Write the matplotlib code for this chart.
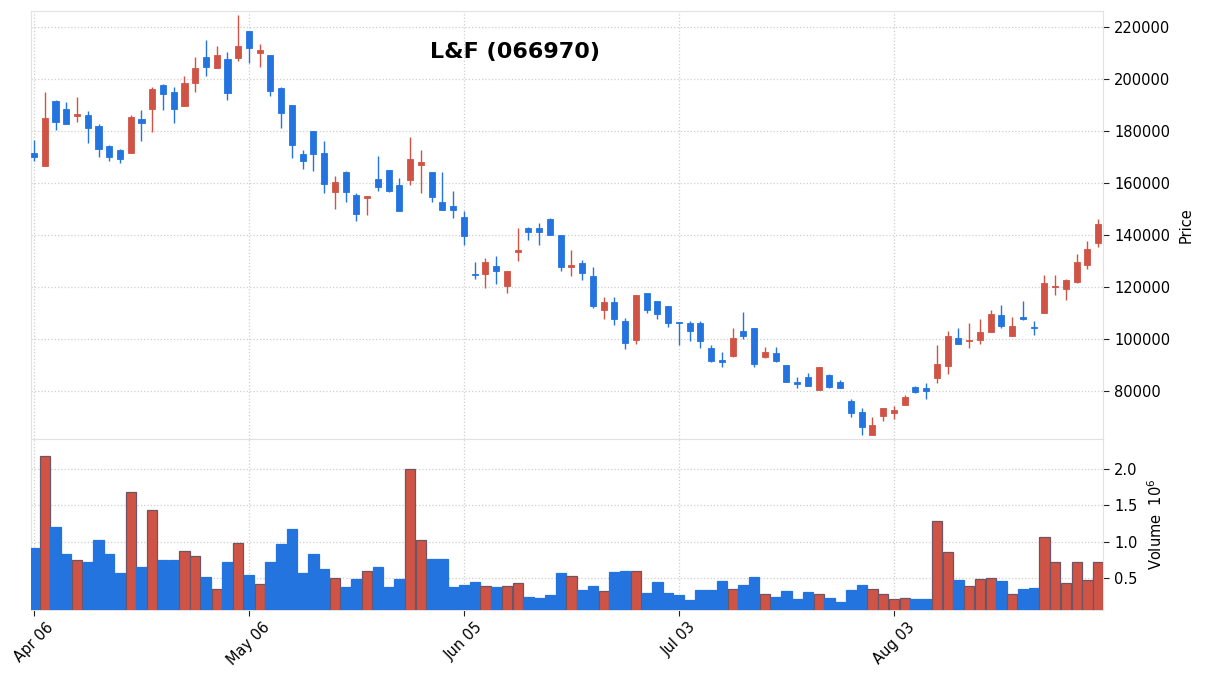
import numpy as np
import matplotlib
matplotlib.use("Agg")
import matplotlib.pyplot as plt

title = "L&F (066970)"

# daily OHLC (KRW) and volume (shares)
opens = [171500, 166500, 191500, 188500, 185800, 186000, 182000, 174000, 172500, 171500,
         184500, 188500, 197500, 195000, 189500, 198500, 208500, 204000, 207500, 208000,
         218500, 210000, 209000, 196500, 190000, 171000, 180000, 171500, 156500, 164000,
         155500, 154000, 161500, 165000, 159000, 161000, 167000, 164000, 152500, 151000,
         147000, 125000, 125000, 128000, 120500, 133500, 142500, 142500, 146000, 140000,
         127500, 129000, 124000, 111000, 114000, 107000, 99500, 117500, 114500, 112500,
         106500, 106000, 106000, 96500, 92000, 93500, 103000, 104000, 93000, 94500,
         90000, 83500, 85500, 80500, 86000, 83500, 76000, 72000, 63000, 70500,
         71500, 74500, 81500, 81000, 85000, 89500, 100500, 99000, 99500, 102500,
         109000, 101000, 108000, 104500, 110000, 120000, 119000, 122000, 128500, 137000]
highs = [176500, 195000, 192000, 191000, 193000, 187500, 182500, 174500, 173000, 186000,
         188000, 197000, 198000, 197000, 201000, 208500, 215000, 212500, 210500, 224500,
         218500, 213500, 209000, 197000, 190000, 172500, 180000, 176000, 162500, 164500,
         156000, 155000, 170500, 165000, 162000, 177500, 172500, 164000, 164000, 157000,
         149000, 129500, 131000, 132000, 126000, 142500, 143000, 144500, 146500, 140000,
         134000, 130500, 127500, 116000, 116000, 108000, 117000, 117500, 114500, 112500,
         106500, 107000, 107000, 97500, 95000, 104000, 110500, 104000, 97000, 97000,
         90000, 85500, 87000, 89000, 86500, 84000, 77000, 73500, 70000, 73500,
         74000, 78500, 82000, 83000, 97500, 103000, 104000, 106000, 107500, 111000,
         113000, 108500, 114500, 107000, 124500, 124500, 123000, 132500, 137500, 146000]
lows = [168500, 166500, 180500, 182500, 183500, 175500, 170000, 168500, 167500, 171500,
        176000, 179500, 188000, 183000, 189500, 195000, 201000, 204000, 192000, 207000,
        206000, 204500, 193500, 181000, 169500, 165500, 164500, 156000, 150000, 152500,
        145500, 147500, 157000, 156500, 149000, 159000, 156000, 152500, 149500, 146500,
        136000, 123000, 119500, 121000, 117500, 130000, 138000, 136000, 140000, 126000,
        124000, 122500, 112000, 107500, 105500, 96000, 98000, 110000, 107500, 104500,
        97500, 99000, 96500, 91000, 89000, 93000, 100000, 89000, 92500, 91000,
        83500, 81000, 82000, 80500, 81000, 81000, 70000, 63000, 63000, 68500,
        69000, 74500, 79000, 77000, 83000, 86500, 98000, 96500, 98000, 102500,
        104000, 101000, 107300, 101500, 110000, 117000, 115000, 121500, 127000, 135500]
closes = [170000, 185000, 183500, 182500, 186500, 181000, 173000, 170000, 169000, 185500,
          183000, 196000, 194000, 188500, 198500, 204000, 204500, 209000, 194500, 212500,
          212000, 211000, 195500, 187000, 174500, 168500, 171000, 159500, 160500, 156500,
          148000, 155000, 158500, 157000, 149000, 169000, 168000, 154500, 149500, 149500,
          139500, 124500, 129500, 126000, 126000, 134000, 141000, 141000, 140000, 127500,
          128500, 125500, 112500, 114000, 107500, 98500, 117000, 111000, 109500, 106000,
          106000, 103000, 99000, 91500, 91000, 100500, 101000, 90500, 95000, 91500,
          83500, 82500, 82000, 89000, 81500, 81000, 71500, 66000, 67000, 73500,
          72500, 77500, 79500, 80000, 90500, 101000, 98000, 99500, 102500, 109500,
          105000, 105000, 107800, 104000, 121500, 120500, 122500, 129500, 134500, 144000]
volumes = [910000, 2180000, 1200000, 840000, 750000, 730000, 1030000, 830000, 580000, 1690000,
           650000, 1440000, 750000, 750000, 880000, 810000, 520000, 360000, 730000, 980000,
           550000, 420000, 720000, 970000, 1170000, 580000, 840000, 630000, 500000, 380000,
           490000, 600000, 660000, 380000, 490000, 2000000, 1020000, 770000, 770000, 380000,
           410000, 450000, 390000, 380000, 400000, 430000, 240000, 230000, 270000, 570000,
           530000, 340000, 390000, 320000, 590000, 600000, 600000, 300000, 450000, 300000,
           270000, 200000, 340000, 340000, 460000, 360000, 410000, 520000, 280000, 240000,
           330000, 220000, 310000, 290000, 230000, 180000, 340000, 410000, 360000, 290000,
           210000, 230000, 210000, 210000, 1280000, 860000, 480000, 400000, 490000, 500000,
           460000, 280000, 350000, 370000, 1060000, 730000, 440000, 730000, 480000, 730000]

tick_pos = [0, 20, 40, 60, 80]
tick_labels = ["Apr 06", "May 06", "Jun 05", "Jul 03", "Aug 03"]

up_color = "#d05446"
down_color = "#2474e0"
up_edge = "#6e5566"
grid_color = "#cfcfcf"
frame_color = "#e2e2e2"

o = np.array(opens, dtype=float)
h = np.array(highs, dtype=float)
l = np.array(lows, dtype=float)
c = np.array(closes, dtype=float)
v = np.array(volumes, dtype=float) / 1e6
x = np.arange(len(o))
up = c >= o
colors = np.where(up, up_color, down_color)

fig = plt.figure(figsize=(12.06, 6.83), dpi=100)
ax = fig.add_axes([31 / 1206, 1 - 439 / 683, 1072 / 1206, 428.5 / 683])
axv = fig.add_axes([31 / 1206, 1 - 610 / 683, 1072 / 1206, 171 / 683], sharex=ax)

# candles
ax.vlines(x, l, h, colors=colors, linewidth=1.0, zorder=3)
body_bot = np.minimum(o, c)
body_h = np.maximum(np.abs(c - o), 500)
ax.bar(x, body_h, bottom=body_bot, width=0.56, color=colors,
       edgecolor=colors, linewidth=0.6, zorder=4)

# volume
edges = np.where(up, up_edge, down_color)
axv.bar(x, v, width=0.95, color=colors, edgecolor=edges, linewidth=0.9, zorder=3)

ax.set_xlim(-0.28, 99.45)
ax.set_ylim(61500, 226300)
axv.set_ylim(0.066, 2.41)

ax.set_yticks(np.arange(80000, 220001, 20000))
axv.set_yticks([0.5, 1.0, 1.5, 2.0])
axv.set_yticklabels(["0.5", "1.0", "1.5", "2.0"])

for a in (ax, axv):
    a.yaxis.tick_right()
    a.yaxis.set_label_position("right")
    a.grid(True, color=grid_color, linestyle=":", linewidth=0.9, zorder=0)
    a.set_axisbelow(True)
    for s in a.spines.values():
        s.set_color(frame_color)
    a.tick_params(axis="y", labelsize=10.5, length=4, color="#222222", pad=4)

ax.tick_params(axis="x", bottom=False, labelbottom=False)
axv.set_xticks(tick_pos)
axv.set_xticklabels(tick_labels, rotation=45, ha="center", fontsize=10.5)
axv.tick_params(axis="x", length=4, color="#222222", pad=3)

ax.set_ylabel("Price", fontsize=10.5, labelpad=6)
axv.set_ylabel("Volume  $10^{6}$", fontsize=10.5, labelpad=6)

fig.text(515 / 1206, 1 - 52 / 683, title, fontsize=16, fontweight="bold",
         ha="center", va="center")

fig.savefig("out.png", dpi=100)
